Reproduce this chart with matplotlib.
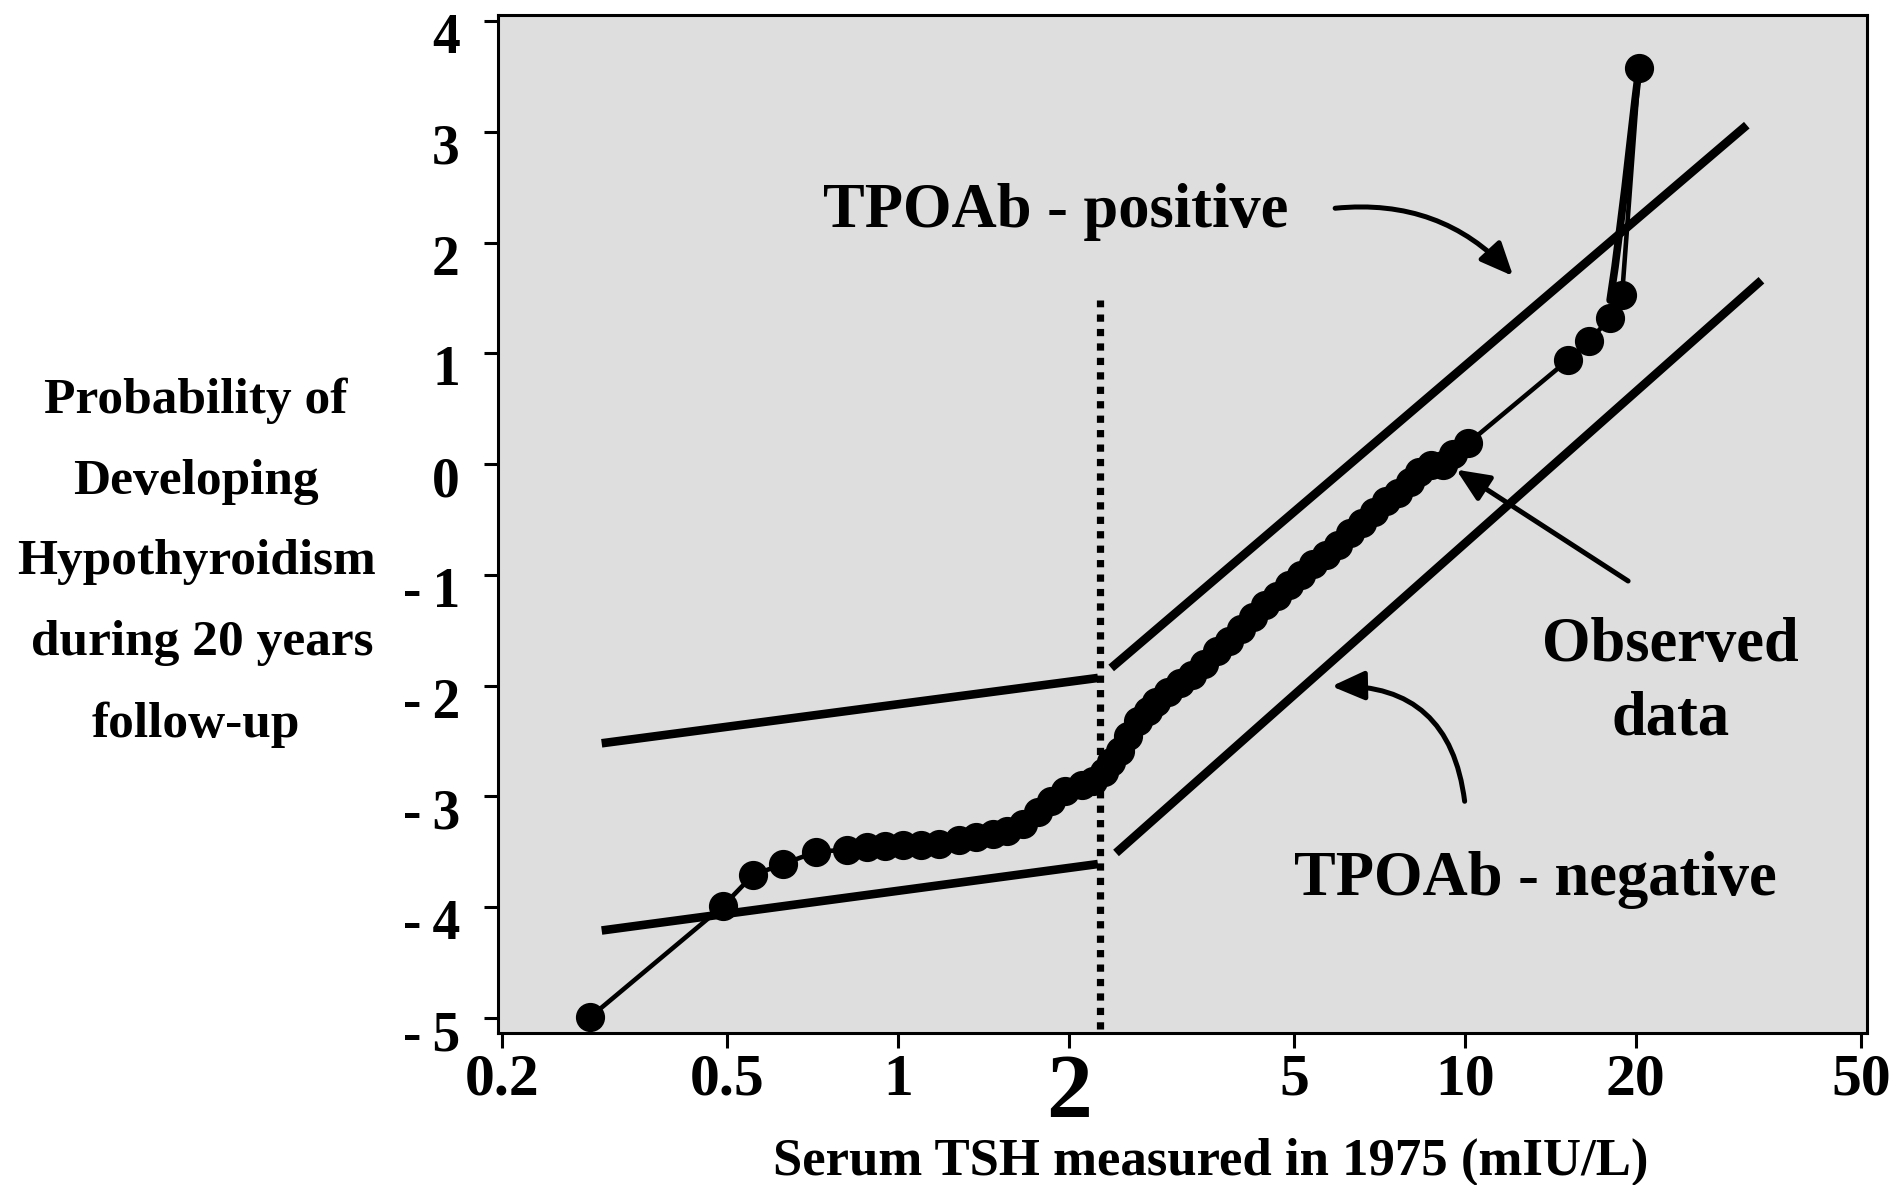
import matplotlib
matplotlib.use("Agg")
import matplotlib.pyplot as plt
import matplotlib.transforms as mtransforms
from matplotlib.ticker import FixedLocator, NullLocator

# Observed data: serum TSH in 1975 (mIU/L) vs transformed probability
tsh_obs = [0.2868, 0.4912, 0.5547, 0.6274, 0.7167, 0.8138, 0.8803, 0.9479,
           1.0205, 1.0992, 1.1831, 1.2793, 1.3712, 1.4683, 1.5579, 1.6603,
           1.7622, 1.8601, 1.9722, 2.1131, 2.2088, 2.3087, 2.3769, 2.4605,
           2.5461, 2.6490, 2.7548, 2.8506, 2.9944, 3.1457, 3.3043, 3.4712,
           3.6465, 3.8306, 4.0229, 4.2264, 4.4388, 4.6628, 4.8975, 5.1433,
           5.4034, 5.6757, 5.9610, 6.2615, 6.5764, 6.9083, 7.2555, 7.6226,
           8.0064, 8.2865, 8.7022, 9.1420, 9.5097, 10.135,
           15.197, 16.546, 18.028, 18.927, 20.276]
prob_obs = [-4.99, -3.99, -3.71, -3.61, -3.50, -3.48, -3.46, -3.45, -3.44,
            -3.44, -3.43, -3.39, -3.37, -3.34, -3.31, -3.25, -3.14, -3.04,
            -2.95, -2.90, -2.86, -2.78, -2.69, -2.59, -2.45, -2.32, -2.23,
            -2.15, -2.06, -1.98, -1.90, -1.80, -1.69, -1.60, -1.49, -1.38,
            -1.27, -1.19, -1.09, -1.00, -0.90, -0.82, -0.73, -0.62, -0.53,
            -0.43, -0.33, -0.26, -0.16, -0.07, -0.01, -0.01, 0.09, 0.19,
            0.94, 1.11, 1.32, 1.53, 3.58]

# Steep upper tail joining the highest observation
tail_tsh = [18.028, 18.390, 18.775, 19.159, 19.554, 19.952, 20.276]
tail_prob = [1.48, 1.78, 2.14, 2.50, 2.90, 3.29, 3.58]

# Fitted lines (TSH, probability) for each antibody group
pos_low_tsh, pos_low_prob = [0.3002, 2.2522], [-2.52, -1.93]
pos_high_tsh, pos_high_prob = [2.3769, 31.405], [-1.84, 3.06]
neg_low_tsh, neg_low_prob = [0.3002, 2.2522], [-4.21, -3.61]
neg_high_tsh, neg_high_prob = [2.4239, 33.33], [-3.51, 1.66]

# Threshold marker
cut_tsh = 2.273
cut_prob = [-5.10, 1.48]

x_ticks = [0.2, 0.5, 1, 2, 5, 10, 20, 50]
x_tick_labels = ["0.2", "0.5", "1", "2", "5", "10", "20", "50"]
y_ticks = [4, 3, 2, 1, 0, -1, -2, -3, -4, -5]
y_tick_labels = ["4", "3", "2", "1", "0",
                 "-\u20091", "-\u20092", "-\u20093", "-\u20094", "-\u20095"]

plt.rcParams["font.family"] = ["Liberation Serif", "DejaVu Serif"]
plt.rcParams["font.weight"] = "bold"

fig = plt.figure(figsize=(18.98, 11.85), dpi=100)
ax = fig.add_axes([0.26238, 0.1283, 0.72129, 0.8590])
ax.set_facecolor("#dedede")
ax.set_xscale("log")
ax.set_xlim(0.19703, 51.17)
ax.set_ylim(-5.135, 4.054)

for sp in ax.spines.values():
    sp.set_linewidth(2.2)

lw_fit = 6.2
ax.plot(pos_low_tsh, pos_low_prob, color="black", lw=lw_fit, solid_capstyle="butt")
ax.plot(pos_high_tsh, pos_high_prob, color="black", lw=lw_fit, solid_capstyle="butt")
ax.plot(neg_low_tsh, neg_low_prob, color="black", lw=lw_fit, solid_capstyle="butt")
ax.plot(neg_high_tsh, neg_high_prob, color="black", lw=lw_fit, solid_capstyle="butt")

ax.plot([cut_tsh, cut_tsh], cut_prob, color="black", lw=5.2,
        linestyle=(0, (1, 1)), dash_capstyle="butt")

ax.plot(tail_tsh, tail_prob, color="black", lw=5.5, solid_capstyle="round")
ax.plot(tsh_obs, prob_obs, color="black", lw=3.3, marker="o", markersize=20,
        markerfacecolor="black", markeredgecolor="black")

# Axis ticks
ax.xaxis.set_major_locator(FixedLocator(x_ticks))
ax.xaxis.set_minor_locator(NullLocator())
ax.set_xticklabels(x_tick_labels)
ax.set_yticks(y_ticks)
ax.set_yticklabels(y_tick_labels)
ax.tick_params(axis="y", direction="out", length=10, width=2.2, pad=17.5,
               labelsize=40)
ax.tick_params(axis="x", direction="out", length=11, width=2.2, pad=4,
               labelsize=43)
for lab in ax.get_xticklabels():
    if lab.get_text() == "2":
        lab.set_fontsize(66)
shift = mtransforms.ScaledTranslation(0, -0.12, fig.dpi_scale_trans)
for lab in ax.get_yticklabels():
    lab.set_transform(lab.get_transform() + shift)

# Axis titles
fig.text(0.1033, 0.5253,
         "Probability of\nDeveloping\nHypothyroidism\n during 20 years\nfollow-up",
         ha="center", va="center", fontsize=37, fontweight="bold",
         linespacing=1.99)
fig.text(0.6378, 0.0194, "Serum TSH measured in 1975 (mIU/L)",
         ha="center", va="center", fontsize=38, fontweight="bold")

# Labels and arrows
txt_kw = dict(xycoords="axes fraction", ha="center", va="center",
              fontsize=45, fontweight="bold")
ax.annotate("TPOAb - positive", xy=(0.4073, 0.8066), **txt_kw)
ax.annotate("Observed\ndata", xy=(0.8565, 0.3440), linespacing=1.35, **txt_kw)
ax.annotate("TPOAb - negative", xy=(0.7574, 0.1503), **txt_kw)

arrow_kw = dict(arrowstyle="-|>,head_length=0.5,head_width=0.22",
                color="black", lw=3.6, mutation_scale=40,
                shrinkA=0, shrinkB=0)
ax.annotate("", xy=(0.7415, 0.7436), xytext=(0.6115, 0.8102),
            xycoords="axes fraction", textcoords="axes fraction",
            arrowprops=dict(connectionstyle="arc3,rad=-0.25", **arrow_kw))
ax.annotate("", xy=(0.6999, 0.5534), xytext=(0.8255, 0.4440),
            xycoords="axes fraction", textcoords="axes fraction",
            arrowprops=dict(connectionstyle="arc3,rad=0", **arrow_kw))
ax.annotate("", xy=(0.6089, 0.3406), xytext=(0.7061, 0.2276),
            xycoords="axes fraction", textcoords="axes fraction",
            arrowprops=dict(connectionstyle="arc3,rad=0.45", **arrow_kw))

fig.savefig("out.png", dpi=100, facecolor="white")
